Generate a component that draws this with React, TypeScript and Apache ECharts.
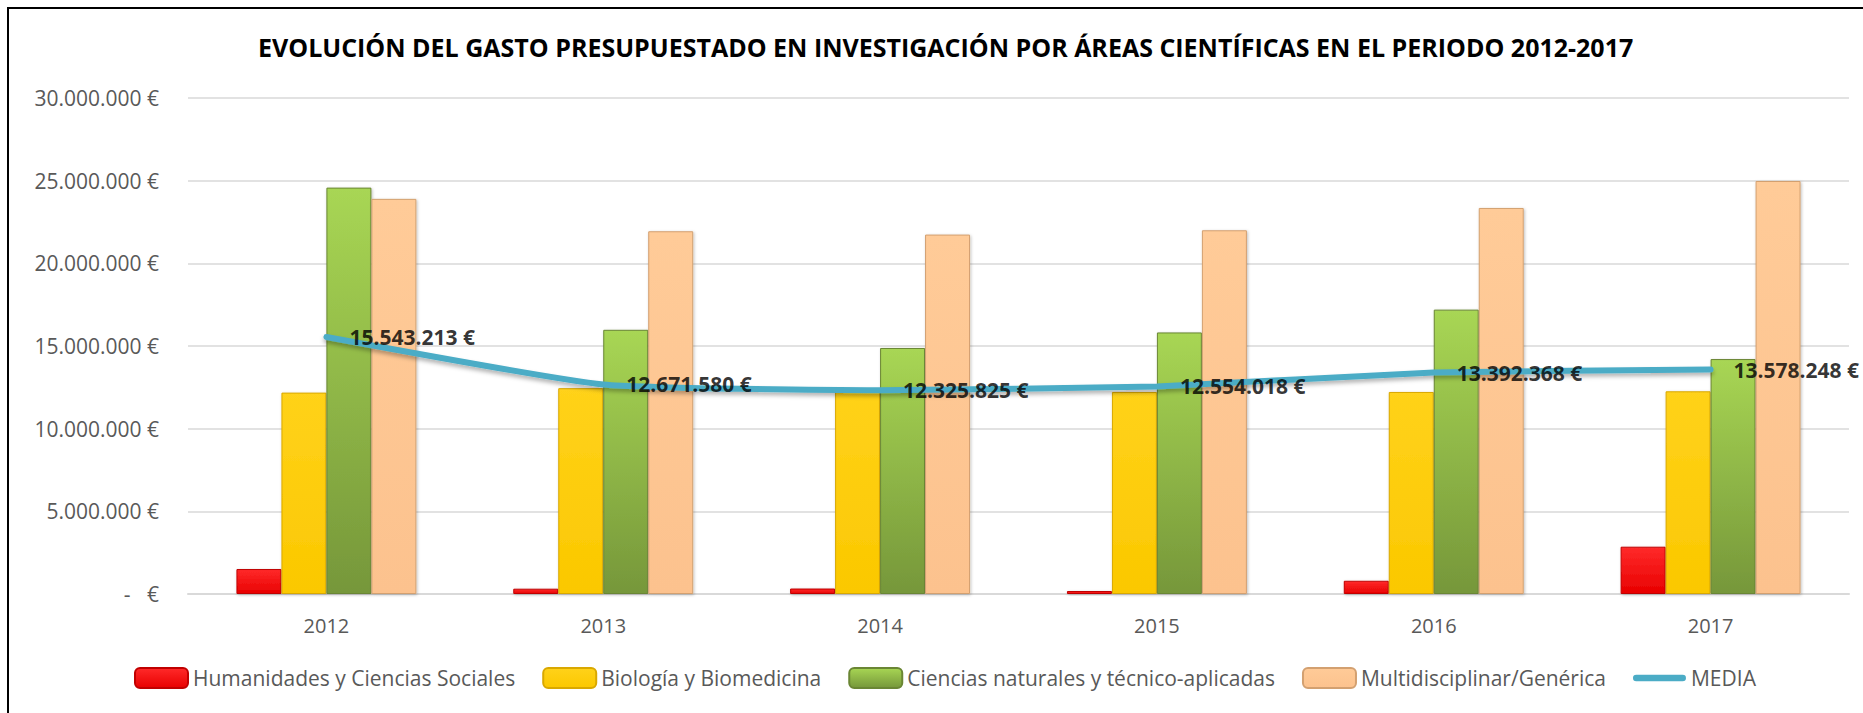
import React, { useEffect, useRef } from "react";
import * as echarts from "echarts";

const categories = ["2012", "2013", "2014", "2015", "2016", "2017"];
const humanidades = [1510000, 320000, 330000, 180000, 800000, 2860000];
const biologia = [12180000, 12450000, 12350000, 12220000, 12220000, 12260000];
const ciencias = [24580000, 15980000, 14880000, 15820000, 17200000, 14210000];
const multidisciplinar = [23900000, 21940000, 21740000, 22000000, 23350000, 24980000];
const media = [15543213, 12671580, 12325825, 12554018, 13392368, 13578248];

const seriesNames = [
  "Humanidades y Ciencias Sociales",
  "Biología y Biomedicina",
  "Ciencias naturales y técnico-aplicadas",
  "Multidisciplinar/Genérica",
  "MEDIA",
];
const titleText =
  "EVOLUCIÓN DEL GASTO PRESUPUESTADO EN INVESTIGACIÓN POR ÁREAS CIENTÍFICAS EN EL PERIODO 2012-2017";

const FONT = "'Open Sans', sans-serif";
const LINE_COLOR = "#4BACC6";

const fmt = (v: number) => {
  const s = Math.round(v).toString().replace(/\B(?=(\d{3})+(?!\d))/g, ".");
  return s + " €";
};

const grad = (top: string, bottom: string) =>
  new echarts.graphic.LinearGradient(0, 0, 0, 1, [
    { offset: 0, color: top },
    { offset: 1, color: bottom },
  ]);

const barStyle = (top: string, bottom: string, border: string) => ({
  color: grad(top, bottom),
  borderColor: border,
  borderWidth: 1,
  shadowColor: "rgba(0,0,0,0.25)",
  shadowBlur: 3,
  shadowOffsetX: 1,
  shadowOffsetY: 1,
});

export default function App() {
  const ref = useRef<HTMLDivElement>(null);
  useEffect(() => {
    if (!ref.current) return;
    const chart = echarts.init(ref.current, undefined, { renderer: "svg" });
    const barCommon = {
      type: "bar",
      barGap: "0%",
      barCategoryGap: "35%",
    };
    chart.setOption({
      animation: false,
      backgroundColor: "#ffffff",
      textStyle: { fontFamily: FONT },
      title: {
        text: titleText,
        left: 258,
        top: 34,
        padding: 0,
        textStyle: { fontFamily: FONT, fontWeight: "bold", fontSize: 25, color: "#000" },
      },
      graphic: [
        {
          type: "rect",
          shape: { x: 8, y: 8, width: 1950, height: 800 },
          style: { fill: "none", stroke: "#000", lineWidth: 2 },
          silent: true,
        },
      ],
      legend: {
        left: 134,
        top: 667,
        padding: 0,
        itemGap: 27,
        itemWidth: 53,
        itemHeight: 20,
        textStyle: { fontFamily: FONT, fontSize: 21, color: "#595959" },
        data: [
          seriesNames[0],
          seriesNames[1],
          seriesNames[2],
          seriesNames[3],
          {
            name: seriesNames[4],
            icon: "path://M4,0 L53,0 A3.5,3.5 0 0 1 53,7 L4,7 A3.5,3.5 0 0 1 4,0 Z",
            itemStyle: { color: LINE_COLOR },
          },
        ],
      },
      grid: { left: 188, right: 14, top: 98, bottom: 119 },
      xAxis: {
        type: "category",
        data: categories,
        axisTick: { show: false },
        axisLine: { lineStyle: { color: "#D9D9D9", width: 2 } },
        axisLabel: {
          color: "#595959",
          fontSize: 20,
          margin: 21,
          fontFamily: FONT,
        },
      },
      yAxis: {
        type: "value",
        min: 0,
        max: 30000000,
        interval: 5000000,
        axisLine: { show: false },
        axisTick: { show: false },
        splitLine: { lineStyle: { color: "#D9D9D9", width: 1.5 } },
        axisLabel: {
          color: "#595959",
          fontSize: 21,
          margin: 29,
          fontFamily: FONT,
          formatter: (v: number) => (v === 0 ? "-   €" : fmt(v)),
        },
      },
      series: [
        {
          ...barCommon,
          name: seriesNames[0],
          data: humanidades,
          itemStyle: barStyle("#FF2A2A", "#E80000", "#C00000"),
        },
        {
          ...barCommon,
          name: seriesNames[1],
          data: biologia,
          itemStyle: barStyle("#FFD21A", "#FBC800", "#D9A800"),
        },
        {
          ...barCommon,
          name: seriesNames[2],
          data: ciencias,
          itemStyle: barStyle("#A8D654", "#76973A", "#6A8634"),
        },
        {
          ...barCommon,
          name: seriesNames[3],
          data: multidisciplinar,
          itemStyle: barStyle("#FFCB98", "#FCC28E", "#D3A070"),
        },
        {
          type: "line",
          name: seriesNames[4],
          data: media,
          smooth: 0.15,
          symbol: "none",
          z: 5,
          color: LINE_COLOR,
          lineStyle: {
            color: LINE_COLOR,
            width: 6,
            cap: "round",
            shadowColor: "rgba(0,0,0,0.3)",
            shadowBlur: 4,
            shadowOffsetY: 3,
          },
        },
        {
          type: "scatter",
          name: "MEDIA etiquetas",
          data: media,
          symbolSize: 2,
          itemStyle: { color: "rgba(0,0,0,0)" },
          z: 6,
          silent: true,
          label: {
            show: true,
            position: "right",
            distance: 22,
            color: "#000",
            fontWeight: "bold",
            fontSize: 21,
            fontFamily: FONT,
            formatter: (p: any) => fmt(p.value),
          },
        },
      ],
    });
    return () => chart.dispose();
  }, []);
  return (
    <div
      ref={ref}
      style={{ position: "absolute", left: 0, top: 0, width: 1863, height: 713 }}
    />
  );
}
